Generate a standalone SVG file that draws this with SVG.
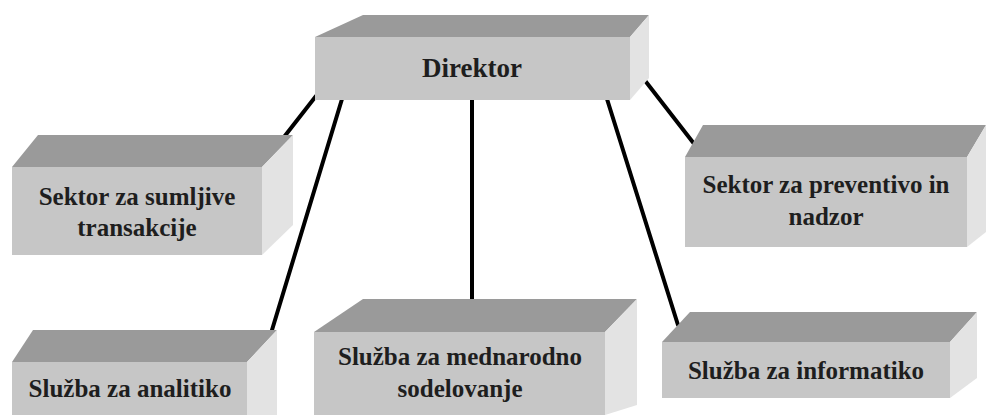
<svg xmlns="http://www.w3.org/2000/svg" width="986" height="415" viewBox="0 0 986 415">
<style>
.front{fill:#c6c6c6}
.top{fill:#9a9a9a}
.side{fill:#e3e3e3}
.conn{stroke:#000;stroke-width:4;stroke-linecap:round;fill:none}
</style>
<rect width="986" height="415" fill="#fff"/>
<g id="connectors">
<line class="conn" x1="316" y1="96" x2="284" y2="137"/>
<line class="conn" x1="342" y1="99" x2="272" y2="330"/>
<line class="conn" x1="472" y1="100" x2="472" y2="299"/>
<line class="conn" x1="607" y1="99" x2="678" y2="325"/>
<line class="conn" x1="643" y1="78" x2="695" y2="145"/>
</g>
<g font-family="Liberation Serif, Times New Roman, serif" font-weight="bold" font-size="25" fill="#1e1e1e" text-anchor="middle">
<g id="direktor">
<polygon class="top" points="315,37 363,15 649,15 630,37"/>
<polygon class="side" points="630,37 649,15 649,78 630,100"/>
<rect class="front" x="315" y="37" width="315" height="63"/>
<text x="472" y="77" font-size="27" fill="#1e1e1e">Direktor</text>
</g>
<g id="sektor-sumljive">
<polygon class="top" points="12,167 38,135 293,135 262,167"/>
<polygon class="side" points="262,167 293,135 293,225 262,255"/>
<rect class="front" x="12" y="167" width="250" height="88"/>
<text x="137" y="205" fill="#1e1e1e">Sektor za sumljive</text>
<text x="137" y="236" fill="#1e1e1e">transakcije</text>
</g>
<g id="sektor-preventivo">
<polygon class="top" points="685,157 703,125 986,125 967,157"/>
<polygon class="side" points="967,157 986,125 986,232 967,247"/>
<rect class="front" x="685" y="157" width="282" height="90"/>
<text x="826" y="193" fill="#1e1e1e">Sektor za preventivo in</text>
<text x="826" y="225" fill="#1e1e1e">nadzor</text>
</g>
<g id="sluzba-analitiko">
<polygon class="top" points="12,362 33,330 277,330 247,362"/>
<polygon class="side" points="247,362 277,330 277,415 247,415"/>
<rect class="front" x="12" y="362" width="235" height="53"/>
<text x="130" y="397" fill="#1e1e1e">Služba za analitiko</text>
</g>
<g id="sluzba-mednarodno">
<polygon class="top" points="314,332 363,299 637,299 605,332"/>
<polygon class="side" points="605,332 637,299 637,405 605,415"/>
<rect class="front" x="314" y="332" width="291" height="83"/>
<text x="460" y="365" fill="#1e1e1e">Služba za mednarodno</text>
<text x="460" y="397" fill="#1e1e1e">sodelovanje</text>
</g>
<g id="sluzba-informatiko">
<polygon class="top" points="662,342 690,312 977,312 950,342"/>
<polygon class="side" points="950,342 977,312 977,378 950,398"/>
<rect class="front" x="662" y="342" width="288" height="56"/>
<text x="806" y="379" fill="#1e1e1e">Služba za informatiko</text>
</g>
</g>
</svg>
